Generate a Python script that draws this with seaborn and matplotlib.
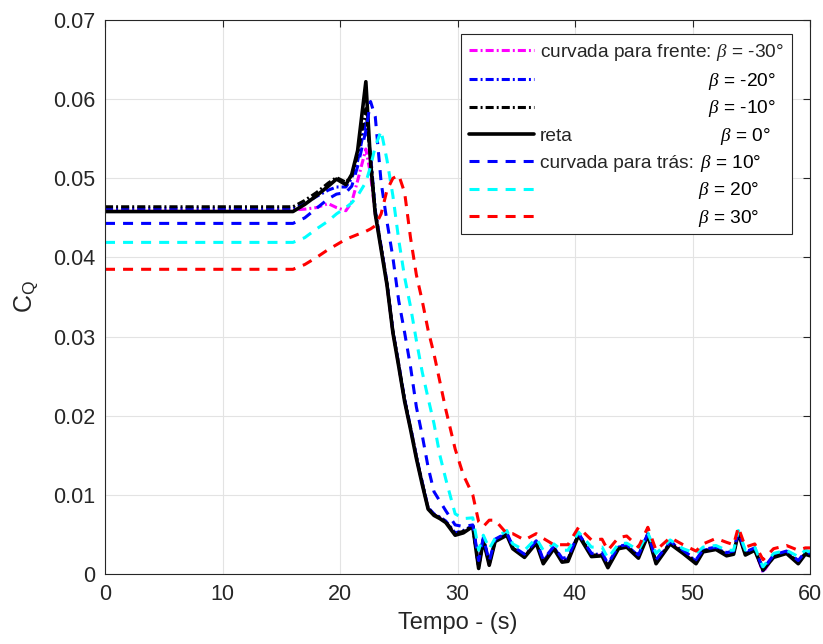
import numpy as np
import pandas as pd
import matplotlib
matplotlib.use("Agg")
import matplotlib.pyplot as plt
import seaborn as sns

# ---------------- data ----------------
t = [0, 16, 17, 18, 19, 19.7, 20.5, 21, 21.5, 22.2, 22.6, 23, 23.5, 24, 24.5, 25, 25.5, 26,
     26.5, 27, 27.5, 28, 28.5, 29, 29.8, 30.5, 31.3, 31.8, 32.2, 32.7, 33.2, 34.2, 34.7, 35.7,
     36.7, 37.3, 38.2, 38.9, 39.4, 40.3, 41.4, 42.3, 42.8, 43.7, 44.4, 45.4, 46.2, 46.9, 48.1,
     49.2, 50.3, 50.9, 52.0, 52.9, 53.5, 53.9, 54.5, 55.3, 56.0, 56.9, 58.0, 59.0, 59.6, 60]

cq_m30 = [0.0460, 0.0460, 0.0461, 0.0463, 0.0468, 0.0463, 0.0459, 0.0470, 0.0497, 0.0537,
          0.0505, 0.0455, 0.0412, 0.0366, 0.0306, 0.0263, 0.0219, 0.0184, 0.0147, 0.0114,
          0.0083, 0.0075, 0.0071, 0.0066, 0.0050, 0.0053, 0.0060,
          0.0009, 0.0044, 0.0012, 0.0042, 0.0050, 0.0033, 0.0022, 0.0040, 0.0014, 0.0033,
          0.0016, 0.0017, 0.0050, 0.0023, 0.0024, 0.0009, 0.0033, 0.0035, 0.0021, 0.0050,
          0.0014, 0.0039, 0.0027, 0.0014, 0.0029, 0.0032, 0.0024, 0.0026, 0.0053, 0.0025,
          0.0031, 0.0002, 0.0022, 0.0027, 0.0014, 0.0026, 0.0024]

cq_m20 = [0.0462, 0.0462, 0.0468, 0.0477, 0.0485, 0.0489, 0.0489, 0.0500, 0.0522, 0.0572,
          0.0530, 0.0460, 0.0414, 0.0368, 0.0308, 0.0265, 0.0221, 0.0186, 0.0149, 0.0116,
          0.0084, 0.0076, 0.0072, 0.0067, 0.0052, 0.0055, 0.0061,
          0.0010, 0.0045, 0.0014, 0.0043, 0.0051, 0.0034, 0.0023, 0.0041, 0.0016, 0.0034,
          0.0018, 0.0019, 0.0051, 0.0025, 0.0025, 0.0011, 0.0034, 0.0036, 0.0023, 0.0051,
          0.0016, 0.0040, 0.0029, 0.0016, 0.0030, 0.0033, 0.0026, 0.0027, 0.0054, 0.0026,
          0.0032, 0.0004, 0.0023, 0.0028, 0.0016, 0.0027, 0.0025]

cq_m10 = [0.0464, 0.0464, 0.0472, 0.0482, 0.0494, 0.0501, 0.0495, 0.0503, 0.0530, 0.0588,
          0.0525, 0.0458, 0.0413, 0.0367, 0.0307, 0.0264, 0.0220, 0.0185, 0.0148, 0.0115,
          0.0083, 0.0075, 0.0071, 0.0066, 0.0051, 0.0054, 0.0061,
          0.0009, 0.0044, 0.0013, 0.0042, 0.0050, 0.0033, 0.0022, 0.0040, 0.0015, 0.0033,
          0.0017, 0.0018, 0.0050, 0.0024, 0.0024, 0.0010, 0.0033, 0.0035, 0.0022, 0.0050,
          0.0015, 0.0039, 0.0028, 0.0015, 0.0029, 0.0032, 0.0025, 0.0026, 0.0053, 0.0025,
          0.0031, 0.0006, 0.0022, 0.0027, 0.0015, 0.0026, 0.0024]

cq_0 = [0.0458, 0.0458, 0.0467, 0.0478, 0.0490, 0.0499, 0.0492, 0.0505, 0.0535, 0.0622,
        0.0520, 0.0455, 0.0410, 0.0365, 0.0305, 0.0262, 0.0218, 0.0183, 0.0146, 0.0113,
        0.0082, 0.0074, 0.0070, 0.0065, 0.0049, 0.0052, 0.0060,
        0.0007, 0.0043, 0.0011, 0.0041, 0.0049, 0.0032, 0.0021, 0.0039, 0.0013, 0.0032,
        0.0015, 0.0016, 0.0049, 0.0022, 0.0023, 0.0008, 0.0032, 0.0034, 0.0020, 0.0049,
        0.0013, 0.0038, 0.0026, 0.0013, 0.0028, 0.0031, 0.0023, 0.0025, 0.0052, 0.0024,
        0.0030, 0.0005, 0.0021, 0.0026, 0.0013, 0.0025, 0.0023]

cq_p10 = [0.0443, 0.0443, 0.0450, 0.0462, 0.0474, 0.0480, 0.0482, 0.0490, 0.0515, 0.0560,
          0.0597, 0.0578, 0.0495, 0.0445, 0.0400, 0.0345, 0.0305, 0.0262, 0.0211, 0.0175,
          0.0135, 0.0104, 0.0092, 0.0080, 0.0062, 0.0060, 0.0062,
          0.0017, 0.0046, 0.0016, 0.0044, 0.0052, 0.0035, 0.0025, 0.0042, 0.0018, 0.0035,
          0.0020, 0.0021, 0.0051, 0.0026, 0.0027, 0.0013, 0.0035, 0.0037, 0.0024, 0.0051,
          0.0018, 0.0041, 0.0030, 0.0018, 0.0031, 0.0034, 0.0027, 0.0029, 0.0054, 0.0028,
          0.0033, 0.0006, 0.0024, 0.0029, 0.0017, 0.0028, 0.0026]

cq_p20 = [0.0419, 0.0419, 0.0425, 0.0436, 0.0446, 0.0455, 0.0463, 0.0469, 0.0478, 0.0495,
          0.0515, 0.0540, 0.0560, 0.0523, 0.0478, 0.0422, 0.0375, 0.0338, 0.0295, 0.0255,
          0.0222, 0.0190, 0.0150, 0.0120, 0.0076, 0.0070, 0.0071,
          0.0030, 0.0049, 0.0032, 0.0045, 0.0055, 0.0038, 0.0030, 0.0045, 0.0030, 0.0038,
          0.0030, 0.0030, 0.0053, 0.0034, 0.0034, 0.0020, 0.0038, 0.0039, 0.0030, 0.0052,
          0.0026, 0.0043, 0.0032, 0.0026, 0.0034, 0.0036, 0.0030, 0.0030, 0.0055, 0.0030,
          0.0034, 0.0009, 0.0026, 0.0030, 0.0022, 0.0030, 0.0028]

cq_p30 = [0.0385, 0.0385, 0.0391, 0.0400, 0.0410, 0.0416, 0.0423, 0.0426, 0.0429, 0.0433,
          0.0436, 0.0440, 0.0455, 0.0485, 0.0500, 0.0504, 0.0482, 0.0425, 0.0378, 0.0345,
          0.0308, 0.0278, 0.0243, 0.0208, 0.0158, 0.0125, 0.0100,
          0.0066, 0.0060, 0.0068, 0.0068, 0.0051, 0.0051, 0.0043, 0.0051, 0.0045, 0.0037,
          0.0037, 0.0037, 0.0059, 0.0043, 0.0044, 0.0030, 0.0046, 0.0048, 0.0034, 0.0059,
          0.0030, 0.0046, 0.0037, 0.0029, 0.0038, 0.0045, 0.0040, 0.0037, 0.0059, 0.0034,
          0.0038, 0.0018, 0.0032, 0.0036, 0.0030, 0.0033, 0.0033]

series_values = [cq_m30, cq_m20, cq_m10, cq_0, cq_p10, cq_p20, cq_p30]
series_ids = ["-30", "-20", "-10", "0", "10", "20", "30"]
legend_left = ["curvada para frente:", "", "", "reta", "curvada para trás:", "", ""]
legend_beta = [r"$\beta$ = -30°", r"$\beta$ = -20°", r"$\beta$ = -10°", r"$\beta$ = 0°",
               r"$\beta$ = 10°", r"$\beta$ = 20°", r"$\beta$ = 30°"]
colors = ["#FF00FF", "#0000FF", "#000000", "#000000", "#0000FF", "#00FFFF", "#FF0000"]

x_ticks = [0, 10, 20, 30, 40, 50, 60]
y_ticks = [0, 0.01, 0.02, 0.03, 0.04, 0.05, 0.06, 0.07]
y_tick_labels = ["0", "0.01", "0.02", "0.03", "0.04", "0.05", "0.06", "0.07"]

# ---------------- style ----------------
sns.set_style("white")
plt.rcParams["font.family"] = ["Liberation Sans", "DejaVu Sans"]
plt.rcParams["mathtext.fontset"] = "custom"
plt.rcParams["mathtext.rm"] = "Liberation Sans"
plt.rcParams["mathtext.it"] = "Liberation Serif:italic"
plt.rcParams["lines.scale_dashes"] = False

dashdot = (0, (5.8, 2.2, 1.4, 2.2))
dashed = (0, (7.2, 5.8))
styles = [dashdot, dashdot, dashdot, "-", dashed, dashed, dashed]
widths = [2.2, 2.2, 2.2, 2.6, 2.2, 2.2, 2.2]

fig = plt.figure(figsize=(8.23, 6.44), dpi=100)
ax = fig.add_axes([105 / 823, 1 - 574 / 644, 705 / 823, 554 / 644])

handles = []
for vals, sid, col, ls, lw in zip(series_values, series_ids, colors, styles, widths):
    df = pd.DataFrame({"t": t, "cq": vals})
    sns.lineplot(data=df, x="t", y="cq", ax=ax, color=col, linewidth=lw, legend=False)
    line = ax.lines[-1]
    line.set_linestyle(ls)
    handles.append(line)

ax.set_xlim(0, 60)
ax.set_ylim(0, 0.07)
ax.set_xticks(x_ticks)
ax.set_yticks(y_ticks)
ax.set_yticklabels(y_tick_labels)
ax.tick_params(axis="both", direction="in", length=5, width=0.8, labelsize=15.5,
               top=True, right=True, color="#262626", labelcolor="#262626", pad=7)
ax.grid(True, color="#e3e3e3", linewidth=0.8)
for sp in ax.spines.values():
    sp.set_color("#262626")
    sp.set_linewidth(0.8)

ax.set_xlabel("Tempo - (s)", fontsize=17, color="#262626", labelpad=5)
ax.set_ylabel(r"C$_\mathrm{Q}$", fontsize=18, color="#262626", labelpad=9)

# legend: left-hand texts from the legend, beta part placed in the same rows
leg_labels = [legend_left[0] + " " + legend_beta[0]] + [s if s else " " for s in legend_left[1:]]
leg = ax.legend(handles, leg_labels, loc="upper right", bbox_to_anchor=(0.974, 0.975),
                borderaxespad=0, fontsize=13.8, handlelength=3.4, handletextpad=0.3,
                labelspacing=0.52, fancybox=False, framealpha=1, edgecolor="#262626",
                borderpad=0.4)
leg.get_frame().set_linewidth(0.8)
leg.set_zorder(5)

fig.canvas.draw()
renderer = fig.canvas.get_renderer()
offsets_px = [None, 168, 168, 180, 160, 158, 158]
inv = fig.transFigure.inverted()
texts = leg.get_texts()
x0 = texts[0].get_window_extent(renderer).x0
for txt, lab, off in zip(texts, legend_beta, offsets_px):
    if off is None:
        continue
    bb = txt.get_window_extent(renderer)
    yc = (bb.y0 + bb.y1) / 2
    fx, fy = inv.transform((x0 + off, yc))
    fig.text(fx, fy, lab, fontsize=13.8, va="center", ha="left", color="black", zorder=10)

fig.savefig("out.png", dpi=100)
